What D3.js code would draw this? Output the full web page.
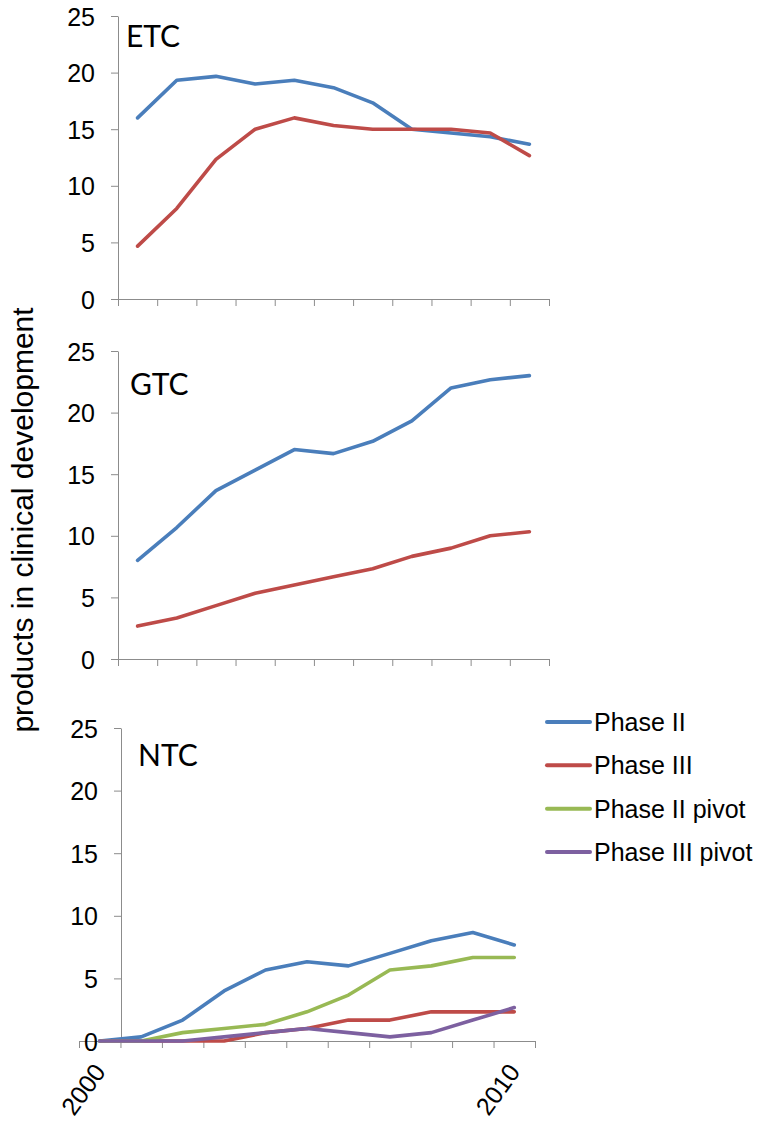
<!DOCTYPE html>
<html>
<head>
<meta charset="utf-8">
<script src="https://cdn.jsdelivr.net/npm/d3@7"></script>
<style>
body { margin: 0; background: #fff; }
svg { display: block; }
</style>
</head>
<body>
<div id="chart"></div>
<script>
// data
const years = [2000, 2001, 2002, 2003, 2004, 2005, 2006, 2007, 2008, 2009, 2010];
const yTicks = [0, 5, 10, 15, 20, 25];
const xLabels = [2000, 2010];
const seriesNames = ["Phase II", "Phase III", "Phase II pivot", "Phase III pivot"];

const etcPhase2 = [16, 19.33, 19.67, 19, 19.33, 18.67, 17.33, 15, 14.67, 14.33, 13.67];
const etcPhase3 = [4.67, 8, 12.33, 15, 16, 15.33, 15, 15, 15, 14.67, 12.67];
const gtcPhase2 = [8, 10.67, 13.67, 15.33, 17, 16.67, 17.67, 19.33, 22, 22.67, 23];
const gtcPhase3 = [2.67, 3.33, 4.33, 5.33, 6, 6.67, 7.33, 8.33, 9, 10, 10.33];
const ntcPhase2 = [0, 0.33, 1.67, 4, 5.67, 6.33, 6, 7, 8, 8.67, 7.67];
const ntcPhase3 = [0, 0, 0, 0, 0.67, 1, 1.67, 1.67, 2.33, 2.33, 2.33];
const ntcPhase2Pivot = [0, 0, 0.67, 1, 1.33, 2.33, 3.67, 5.67, 6, 6.67, 6.67];
const ntcPhase3Pivot = [0, 0, 0, 0.33, 0.67, 1, 0.67, 0.33, 0.67, 1.67, 2.67];

const colors = ["#4a7ebb", "#be4b48", "#98b954", "#7d60a0"];

const width = 762, height = 1124;
const svg = d3.select("#chart").append("svg")
  .attr("width", width).attr("height", height);

// layout of the three stacked panels
const panels = [
  {name: "ETC", series: [etcPhase2, etcPhase3], top: 16, bottom: 299, left: 118, right: 549, axisX: 118, labelX: 126, labelY: 47},
  {name: "GTC", series: [gtcPhase2, gtcPhase3], top: 351, bottom: 659, left: 118, right: 549, axisX: 118, labelX: 130, labelY: 395},
  {name: "NTC", series: [ntcPhase2, ntcPhase3, ntcPhase2Pivot, ntcPhase3Pivot], top: 728, bottom: 1041, left: 79, right: 535, axisX: 121, labelX: 138, labelY: 766, showYears: true}
];

const axisColor = "#8c8c8c";

panels.forEach(p => {
  let g = svg.append("g");
  let x = d3.scaleBand().domain(years).range([p.left, p.right]).padding(0);
  let y = d3.scaleLinear().domain([0, 25]).range([p.bottom, p.top]);
  // boundaries between categories for the tick marks
  let xEdge = d3.scaleLinear().domain([0, years.length]).range([p.left, p.right]);

  // x axis
  let xAxis = g.append("g").attr("transform", "translate(0," + p.bottom + ")")
    .call(d3.axisBottom(xEdge).tickValues(d3.range(years.length + 1)).tickSize(7).tickSizeOuter(0).tickFormat(""));
  xAxis.selectAll("path, line").attr("stroke", axisColor);

  // y axis
  let yAxis = g.append("g").attr("transform", "translate(" + p.axisX + ",0)")
    .call(d3.axisLeft(y).tickValues(yTicks).tickSize(7).tickSizeOuter(0).tickPadding(16));
  yAxis.selectAll("path, line").attr("stroke", axisColor);
  yAxis.selectAll("text")
    .attr("font-family", "'Liberation Sans', Arial, sans-serif")
    .attr("font-size", 25).attr("fill", "#000").attr("dy", "0.36em");

  // lines
  let line = d3.line()
    .x((d, i) => x(years[i]) + x.bandwidth() / 2)
    .y(d => y(d));
  p.series.forEach((s, i) => {
    g.append("path").datum(s)
      .attr("d", line)
      .attr("fill", "none")
      .attr("stroke", colors[i])
      .attr("stroke-width", 3.6)
      .attr("stroke-linejoin", "round")
      .attr("stroke-linecap", "round");
  });

  // panel name
  g.append("text").attr("x", p.labelX).attr("y", p.labelY)
    .attr("font-family", "Lato, 'Open Sans', sans-serif")
    .attr("font-size", 30).attr("fill", "#000")
    .text(p.name);

  if (p.showYears) {
    let lab = g.append("g").attr("transform", "translate(0," + p.bottom + ")")
      .call(d3.axisBottom(x).tickValues(xLabels).tickSize(0).tickPadding(0));
    lab.select(".domain").remove();
    lab.selectAll("text")
      .attr("font-family", "'Liberation Sans', Arial, sans-serif")
      .attr("font-size", 25).attr("fill", "#000")
      .attr("text-anchor", "end")
      .attr("dy", 0)
      .attr("transform", "translate(7,31) rotate(-54)");
  }
});

// y axis title
svg.append("text")
  .attr("transform", "translate(33,520) rotate(-90)")
  .attr("text-anchor", "middle")
  .attr("font-family", "'Liberation Sans', Arial, sans-serif")
  .attr("font-size", 30).attr("fill", "#000")
  .text("products in clinical development");

// legend
const legend = svg.append("g").attr("transform", "translate(547,722)");
const legendY = d3.scalePoint().domain(seriesNames).range([0, 130]);
seriesNames.forEach((n, i) => {
  let row = legend.append("g").attr("transform", "translate(0," + legendY(n) + ")");
  row.append("line").attr("x1", 0).attr("x2", 43)
    .attr("stroke", colors[i]).attr("stroke-width", 4).attr("stroke-linecap", "round");
  row.append("text").attr("x", 47).attr("dy", "0.36em")
    .attr("font-family", "'Liberation Sans', Arial, sans-serif")
    .attr("font-size", 25).attr("fill", "#000")
    .text(n);
});
</script>
</body>
</html>
